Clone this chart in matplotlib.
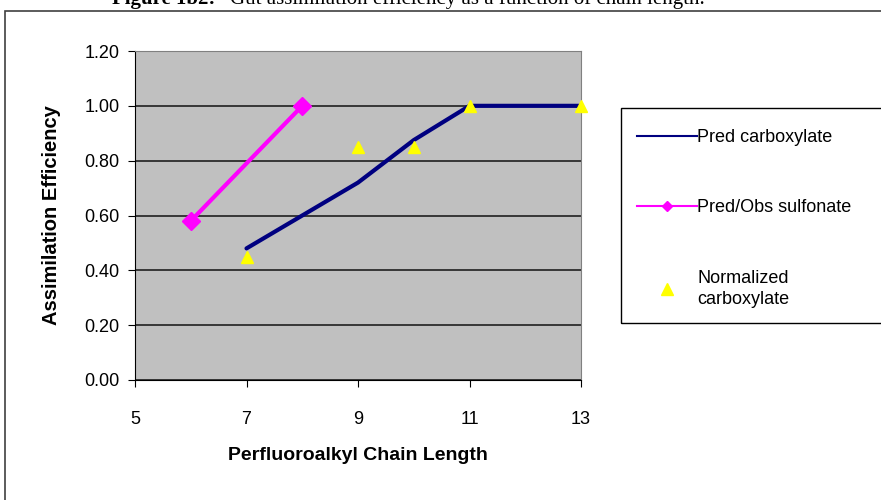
import matplotlib.pyplot as plt
from matplotlib.patches import Rectangle
from matplotlib.lines import Line2D

# data
carb_x = [7, 8, 9, 10, 11, 12, 13]
carb_y = [0.48, 0.60, 0.72, 0.875, 1.00, 1.00, 1.00]
sulf_x = [6, 8]
sulf_y = [0.58, 1.00]
norm_x = [7, 9, 10, 11, 13]
norm_y = [0.45, 0.85, 0.85, 1.00, 1.00]

xticks = [5, 7, 9, 11, 13]
yticks = [0.0, 0.2, 0.4, 0.6, 0.8, 1.0, 1.2]

plt.rcParams['font.family'] = ['Liberation Sans', 'DejaVu Sans']

fig = plt.figure(figsize=(8.81, 5), dpi=100)
W, H = 881, 500

# outer chart frame (clipped at the right / bottom like the screenshot)
fig.patches.append(Rectangle((5 / W, -0.1), 1.0, (H - 11) / H + 0.1,
                             transform=fig.transFigure, fill=False,
                             edgecolor='#404040', linewidth=1.2))

# cut-off caption at the very top
fig.text(112 / W, 1 - 4 / H, 'Figure 1b2:', fontsize=15, fontweight='bold',
         family='Liberation Serif', va='baseline')
fig.text(230 / W, 1 - 4 / H, 'Gut assimilation efficiency as a function of chain length.',
         fontsize=15, family='Liberation Serif', va='baseline')

ax = fig.add_axes([135 / W, 1 - 380 / H, (581 - 135) / W, (380 - 51) / H])
ax.set_facecolor('#C0C0C0')

ax.plot(carb_x, carb_y, color='#000080', linewidth=3, solid_capstyle='round',
        zorder=3)
ax.plot(sulf_x, sulf_y, color='#FF00FF', linewidth=3, marker='D',
        markersize=9, zorder=3)
ax.plot(norm_x, norm_y, linestyle='none', marker='^', color='#FFFF00',
        markersize=8, zorder=4, clip_on=False)

ax.set_xlim(5, 13)
ax.set_ylim(0, 1.2)
ax.set_xticks(xticks)
ax.set_yticks(yticks)
ax.set_yticklabels([f'{v:.2f}' for v in yticks])
ax.tick_params(axis='both', labelsize=13, direction='out', length=5,
               color='black')
ax.tick_params(axis='x', pad=17)
ax.tick_params(axis='y', pad=6)
ax.grid(axis='y', color='#202020', linewidth=1.2)
ax.set_axisbelow(True)
for s in ['top', 'right']:
    ax.spines[s].set_color('#808080')
for s in ['left', 'bottom']:
    ax.spines[s].set_color('black')

ax.set_xlabel('Perfluoroalkyl Chain Length', fontsize=14, fontweight='bold',
              labelpad=14)
ax.set_ylabel('Assimilation Efficiency', fontsize=14.5, fontweight='bold',
              labelpad=17)

# legend frame, clipped at the right edge as in the screenshot
fig.patches.append(Rectangle((621 / W, 1 - 323 / H), 1.0, (323 - 108) / H,
                             transform=fig.transFigure, fill=False,
                             edgecolor='black', linewidth=1.0))

handles = [
    Line2D([], [], color='#000080', linewidth=1.5),
    Line2D([], [], color='#FF00FF', linewidth=1.5, marker='D', markersize=5),
    Line2D([], [], linestyle='none', marker='^', color='#FFFF00', markersize=8),
]
labels = ['Pred carboxylate', 'Pred/Obs sulfonate', 'Normalized\ncarboxylate']
leg = fig.legend(handles, labels, loc='upper left',
                 bbox_to_anchor=(637 / W, 1 - 129 / H), fontsize=13,
                 frameon=False, handlelength=3.3, handletextpad=0.05,
                 labelspacing=2.95, borderpad=0, borderaxespad=0)
for t in leg.get_texts():
    t.set_linespacing(1.35)

fig.savefig('out.png', dpi=100)
